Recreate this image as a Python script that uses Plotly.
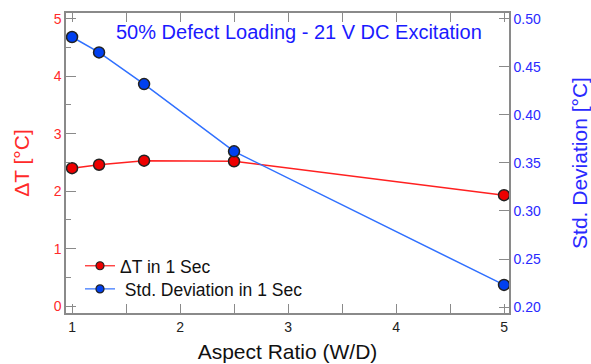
import plotly.graph_objects as go

aspect_ratio = [1.0, 1.25, 1.667, 2.5, 5.0]
delta_t = [2.40, 2.46, 2.53, 2.52, 1.93]
std_dev = [0.481, 0.465, 0.432, 0.362, 0.223]

series_names = ["ΔT in 1 Sec", " Std. Deviation in 1 Sec"]
title_text = "50% Defect Loading - 21 V DC Excitation"
FONT = "Liberation Sans, Arial, sans-serif"
RED = "#ff2a2a"
BLUE = "#2a2aff"

fig = go.Figure()
fig.add_trace(go.Scatter(
    x=aspect_ratio, y=delta_t, mode="lines+markers", name=series_names[0],
    line=dict(color="#ff2020", width=1.5), showlegend=False,
    marker=dict(color="#ee0000", size=11, line=dict(color="#222222", width=1.5)),
    yaxis="y"))
fig.add_trace(go.Scatter(
    x=aspect_ratio, y=std_dev, mode="lines+markers", name=series_names[1],
    line=dict(color="#3070ff", width=1.5), showlegend=False,
    marker=dict(color="#0040f0", size=11, line=dict(color="#222222", width=1.5)),
    yaxis="y2"))
# legend entries (smaller symbols as in the reference)
fig.add_trace(go.Scatter(
    x=[None], y=[None], mode="lines+markers", name=series_names[0],
    line=dict(color="#ff2020", width=1.2), legend="legend",
    marker=dict(color="#ee0000", size=8, line=dict(color="#222222", width=1.2)),
    yaxis="y"))
fig.add_trace(go.Scatter(
    x=[None], y=[None], mode="lines+markers", name=series_names[1],
    line=dict(color="#3070ff", width=1.2), legend="legend2",
    marker=dict(color="#0040f0", size=8, line=dict(color="#222222", width=1.2)),
    yaxis="y2"))

axis_line = "#8a8a8a"
legend_style = dict(xanchor="left", yanchor="middle", bgcolor="rgba(0,0,0,0)",
                    font=dict(size=17.5, color="#111111"), itemwidth=30)
fig.update_layout(
    width=591, height=364,
    margin=dict(l=66, r=82, t=13, b=51),
    paper_bgcolor="white", plot_bgcolor="white",
    font=dict(family=FONT, size=14, color="black"),
    showlegend=True,
    legend=dict(x=0.0316, y=0.157, **legend_style),
    legend2=dict(x=0.0316, y=0.08, **legend_style),
    xaxis=dict(
        range=[0.944, 5.046], tickvals=[1, 2, 3, 4, 5], automargin=False,
        showgrid=False, zeroline=False,
        showline=True, linecolor=axis_line, linewidth=1.5,
        mirror="allticks", ticks="inside", ticklen=9, tickwidth=1.2, tickcolor=axis_line,
        minor=dict(tickvals=[1.5, 2.5, 3.5, 4.5], ticks="inside", ticklen=5, tickcolor=axis_line, tickwidth=1.2),
        tickfont=dict(size=14, color="#222222"),
        title=dict(text="Aspect Ratio (W/D)", font=dict(size=21, color="#111111"), standoff=11),
    ),
    yaxis=dict(
        range=[-0.12, 5.1], tickvals=[0, 1, 2, 3, 4, 5], automargin=False,
        showgrid=False, zeroline=False,
        showline=True, linecolor=axis_line, linewidth=1.5,
        ticks="inside", ticklen=10, tickwidth=1.2, tickcolor=axis_line,
        minor=dict(tickvals=[0.5, 1.5, 2.5, 3.5, 4.5], ticks="inside", ticklen=5, tickcolor=axis_line, tickwidth=1.2),
        tickfont=dict(size=14, color=RED),
        title=dict(text="ΔT [°C]", font=dict(size=21, color=RED), standoff=18),
    ),
    yaxis2=dict(
        range=[0.1938, 0.506], tickvals=[0.20, 0.25, 0.30, 0.35, 0.40, 0.45, 0.50],
        ticktext=["0.20", "0.25", "0.30", "0.35", "0.40", "0.45", "0.50"],
        overlaying="y", side="right", automargin=False,
        showgrid=False, zeroline=False,
        showline=True, linecolor=axis_line, linewidth=1.5,
        ticks="inside", ticklen=10, tickwidth=1.2, tickcolor=axis_line,
        tickfont=dict(size=14, color=BLUE),
        title=dict(text="Std. Deviation [°C]", font=dict(size=21, color=BLUE), standoff=33),
    ),
    annotations=[dict(
        text=title_text, xref="paper", yref="paper", x=0.526, y=0.937,
        xanchor="center", yanchor="middle", showarrow=False,
        font=dict(size=20, color="#1a1aff", family=FONT))],
)

fig.write_html("out.html")
